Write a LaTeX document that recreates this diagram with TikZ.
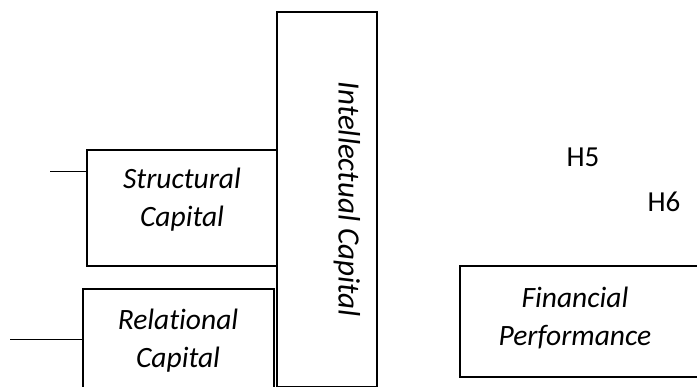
\documentclass[tikz,border=0pt]{standalone}
\usepackage{fontspec}
\setmainfont[Ligatures=NoCommon]{Carlito}
\begin{document}
\begin{tikzpicture}[x=1pt,y=-1pt,
  boxstyle/.style={draw=black,line width=1.6pt,rectangle,inner sep=0pt,anchor=north west},
  lbl/.style={font=\fontsize{29.5}{38}\selectfont\itshape,align=center,inner sep=0pt},
  hlbl/.style={font=\fontsize{29}{32}\selectfont,inner sep=0pt},
  conn/.style={line width=1pt}]
\useasboundingbox (0,0) rectangle (697,387);
\clip (0,0) rectangle (697,387);
% Intellectual Capital
\node[boxstyle,minimum width=100pt,minimum height=375pt] (ic) at (276,11) {};
\node[lbl,rotate=-90,font=\fontsize{31}{38}\selectfont\itshape] (ict) at (347,199) {Intellectual Capital};
% Structural Capital
\node[boxstyle,minimum width=190pt,minimum height=116pt] (sc) at (86,149) {};
\node[lbl] (sct) at (182,200) {Structural\\Capital};
% Relational Capital
\node[boxstyle,minimum width=191pt,minimum height=110pt] (rc) at (82,288) {};
\node[lbl] (rct) at (178,341) {Relational\\Capital};
% Financial Performance
\node[boxstyle,minimum width=250pt,minimum height=111pt] (fp) at (459,265) {};
\node[lbl] (fpt) at (575,318) {Financial\\Performance};
% Labels
\node[hlbl] (h5) at (583,157) {H5};
\node[hlbl] (h6) at (664,202) {H6};
% Connector stubs
\coordinate (s1) at (50,172);
\coordinate (r1) at (10,340);
\draw[conn] (s1) -- (sc.west |- s1);
\draw[conn] (r1) -- (rc.west |- r1);
\end{tikzpicture}
\end{document}
